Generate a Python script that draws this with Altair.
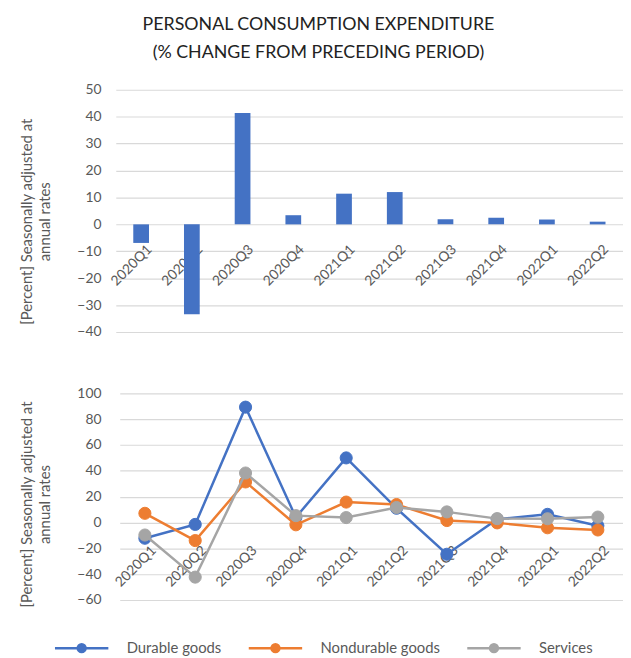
import altair as alt
import pandas as pd

quarters = ["2020Q1", "2020Q2", "2020Q3", "2020Q4", "2021Q1",
            "2021Q2", "2021Q3", "2021Q4", "2022Q1", "2022Q2"]
pce_total = [-6.9, -33.4, 41.4, 3.4, 11.4, 12.0, 1.9, 2.5, 1.8, 1.0]

series_names = ["Durable goods", "Nondurable goods", "Services"]
series_colors = ["#4472C4", "#ED7D31", "#A5A5A5"]
durable = [-12.2, -1.5, 89.3, 4.0, 50.0, 11.0, -24.6, 2.5, 6.3, -2.5]
nondurable = [7.1, -14.0, 31.4, -1.8, 15.8, 13.9, 1.5, -0.3, -4.1, -5.8]
services = [-9.7, -42.3, 38.3, 5.3, 3.8, 11.6, 8.2, 3.0, 2.9, 4.2]

title_lines = ["PERSONAL CONSUMPTION EXPENDITURE", "(% CHANGE FROM PRECEDING PERIOD)"]
y_title = ["[Percent] Seasonally adjusted at", "annual rates"]
top_ticks = [-40, -30, -20, -10, 0, 10, 20, 30, 40, 50]
bottom_ticks = [-60, -40, -20, 0, 20, 40, 60, 80, 100]

df_bar = pd.DataFrame({"quarter": quarters, "value": pce_total})
rows = []
for name, vals in zip(series_names, [durable, nondurable, services]):
    for q, v in zip(quarters, vals):
        rows.append({"quarter": q, "series": name, "value": v})
df_line = pd.DataFrame(rows)

FONT = "Lato"
LABEL_COLOR = "#595959"
GRID = "#D9D9D9"
W = 513
H_TOP = 245
H_BOT = 209


def x_enc(offset, pad, rng=None):
    if rng is None:
        sc = alt.Scale(paddingInner=0.69, paddingOuter=0.345)
    else:
        sc = alt.Scale(paddingInner=0.69, paddingOuter=0.345, range=rng)
    return alt.X(
        "quarter:N", sort=quarters, scale=sc,
        axis=alt.Axis(title=None, labelAngle=-45, labelAlign="right",
                      labelBaseline="top", labelPadding=pad, labelOffset=4,
                      labelFont=FONT, labelFontSize=14, labelColor=LABEL_COLOR,
                      domain=False, ticks=False, grid=False, offset=offset,
                      labelOverlap=False),
    )


def y_enc(domain, ticks, title_y):
    return alt.Y(
        "value:Q", scale=alt.Scale(domain=domain, nice=False, zero=False),
        axis=alt.Axis(values=ticks, title=y_title, titleFont=FONT,
                      titleFontSize=15, titleFontWeight="normal",
                      titleColor=LABEL_COLOR, titleX=-82, titleY=title_y,
                      titleAlign="center", titleLineHeight=18,
                      labelFont=FONT, labelFontSize=14, labelColor=LABEL_COLOR,
                      labelPadding=15, domain=False, ticks=False,
                      gridColor=GRID, gridWidth=1.2),
    )


top = alt.Chart(df_bar).mark_bar(color="#4472C4").encode(
    x=x_enc(-(H_TOP * 40 / 90), 18),
    y=y_enc([-40, 50], top_ticks, 133),
).properties(width=W, height=H_TOP)

sym_path = "M-2.7,0L2.7,0M-0.4,0A0.4,0.4,0,1,0,0.4,0A0.4,0.4,0,1,0,-0.4,0Z"
legend = alt.Legend(title=None, orient="none", direction="horizontal",
                    legendX=-46, legendY=553,
                    symbolType=sym_path, symbolSize=400, symbolStrokeWidth=2.5,
                    labelFont=FONT, labelFontSize=15, labelColor=LABEL_COLOR,
                    labelOffset=34, columnPadding=22)
stroke_scale = alt.Scale(domain=series_names, range=series_colors)

layers = []
for name in series_names:
    base = alt.Chart(df_line).transform_filter(alt.datum.series == name)
    xb = x_enc(-(H_BOT * 60 / 160), 21, [4, W])
    yb = y_enc([-60, 100], bottom_ticks, 112)
    ln = base.mark_line(strokeWidth=2.5).encode(
        x=xb, y=yb,
        stroke=alt.Stroke("series:N", scale=stroke_scale, legend=legend),
    )
    pt = base.mark_point(filled=True, size=150, strokeWidth=1, opacity=1).encode(
        x=xb, y=yb,
        stroke=alt.Stroke("series:N", scale=stroke_scale, legend=legend),
        fill=alt.Fill("series:N", scale=stroke_scale, legend=legend),
    )
    layers += [ln, pt]

bottom = alt.layer(*layers).properties(width=W, height=H_BOT)

chart = alt.vconcat(top, bottom, spacing=48).properties(
    title=alt.TitleParams(text=title_lines, font=FONT, fontSize=18,
                          fontWeight="normal", color="#222222",
                          anchor="middle", lineHeight=28, offset=21, dx=-3),
    padding={"left": 11, "top": 5, "right": 0, "bottom": 0},
).configure_view(stroke=None)

chart.save("out.html", embed_options={"renderer": "svg", "actions": False})
